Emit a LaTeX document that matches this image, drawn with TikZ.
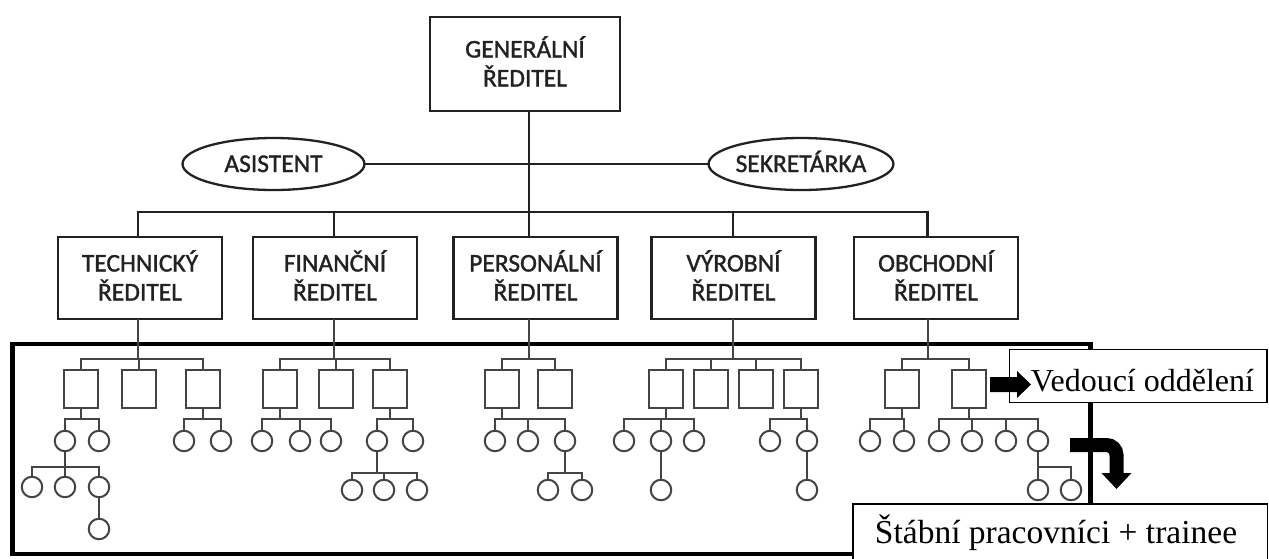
\documentclass[tikz,border=0pt]{standalone}
\usepackage{fontspec}
\newfontfamily\chartfont[FakeBold=1.3]{Carlito}
\newfontfamily\notefont{Liberation Serif}
\usetikzlibrary{shapes.geometric}

\definecolor{ink}{RGB}{34,34,34}
\definecolor{treeink}{RGB}{68,68,68}

% draw a fork: a stem from #1 down to the level of coordinate #2, then to each child in #3
\newcommand\fork[3]{%
  \path #1 coordinate (fk);
  \foreach \kid in {#3}{\draw[tree] (fk) -- (fk |- #2) -| (\kid.north);}%
}

\begin{document}
\begin{tikzpicture}[x=1pt,y=-1pt,
  every node/.style={inner sep=0pt, outer sep=0pt},
  chart/.style={draw=ink, line width=2.3pt},
  tree/.style={draw=treeink, line width=2pt},
  chartlabel/.style={font=\chartfont\fontsize{25.5}{29}\selectfont, text=ink, align=center},
  mgr/.style={chart, chartlabel, rectangle, minimum width=164pt, minimum height=82pt,
              text height=45pt, text depth=0pt},
  aide/.style={chart, chartlabel, ellipse, minimum width=182pt, minimum height=52pt,
               text height=16pt, text depth=0pt},
  sbox/.style={tree, rectangle, minimum width=34pt, minimum height=38pt},
  circ/.style={tree, circle, minimum size=20.5pt},
  notebox/.style={draw=black, fill=white, line width=1.6pt, rectangle},
  notetext/.style={font=\notefont, text=black, anchor=base},
  bigarrow/.style={fill=black}
]
\useasboundingbox (0,0) rectangle (1269,558);
\fill[white] (0,0) rectangle (1269,558);
\clip (0,0) rectangle (1269,558);

% outer frame around the departmental level
\draw[line width=4.6pt, black] (12.5,344) rectangle (1090.5,554);

% bus levels and stems
\coordinate (bus1) at (0,212);
\coordinate (bus2) at (0,358.5);
\coordinate (bus3) at (0,419);
\coordinate (bus4a) at (0,467);
\coordinate (bus4b) at (0,473);
\coordinate (tstem) at (138,0);
\coordinate (fstem) at (334,0);
\coordinate (pstem) at (529,0);
\coordinate (vstem) at (733,0);
\coordinate (ostem) at (927.5,0);

% top management
\node[chart, chartlabel, rectangle, minimum width=190pt, minimum height=94pt,
      text height=45pt, text depth=0pt] (gen) at (525,64) {GENERÁLNÍ\\ŘEDITEL};
\node[aide] (asst) at (273.5,164) {ASISTENT};
\node[aide] (sekr) at (801,164) {SEKRETÁRKA};

\node[mgr] (tech) at (140,278) {TECHNICKÝ\\ŘEDITEL};
\node[mgr] (fin)  at (335,278) {FINANČNÍ\\ŘEDITEL};
\node[mgr] (pers) at (535.5,278) {PERSONÁLNÍ\\ŘEDITEL};
\node[mgr] (vyr)  at (733.5,278) {VÝROBNÍ\\ŘEDITEL};
\node[mgr] (obch) at (936,278) {OBCHODNÍ\\ŘEDITEL};

\draw[chart] (gen.south -| pstem) -- (pers.north -| pstem);
\draw[chart] (asst.east) -- (sekr.west);
\draw[chart] (tech.north -| tstem) |- (ostem |- bus1) -- (obch.north -| ostem);
\draw[chart] (fin.north -| fstem) -- (fstem |- bus1);
\draw[chart] (vyr.north -| vstem) -- (vstem |- bus1);

% department heads
\foreach \n/\x in {ta/81,tb/139,tc/202.5,fa/280,fb/336,fc/389.5,pa/502,pb/555,
                   va/665.5,vb/710.5,vc/756,vd/801,oa/902,ob/969}
  \node[sbox] (\n) at (\x,389) {};

% staff, first row
\foreach \n/\x in {ta1/65,ta2/99,tc1/184,tc2/221,fa1/262,fa2/300,fa3/331,fc1/377,fc2/413,
                   pa1/495,pa2/528,pa3/565,va1/624,va2/661,va3/694,vd1/770,vd2/807,
                   oa1/870,oa2/904,ob1/939,ob2/972,ob3/1006,ob4/1038}
  \node[circ] (\n) at (\x,441) {};

% staff, second and third rows
\foreach \n/\x in {ta11/32,ta12/65,ta13/99}
  \node[circ] (\n) at (\x,487) {};
\node[circ] (ta131) at (99,529) {};
\foreach \n/\x in {fc11/352,fc12/384,fc13/417,pa31/548,pa32/582,va21/661,vd21/807,ob41/1038,ob42/1071}
  \node[circ] (\n) at (\x,490) {};

% links from directors to department heads
\fork{(tech.south -| tstem)}{bus2}{ta,tb,tc}
\fork{(fin.south -| fstem)}{bus2}{fa,fb,fc}
\fork{(pers.south -| pstem)}{bus2}{pa,pb}
\fork{(vyr.south -| vstem)}{bus2}{va,vb,vc,vd}
\fork{(obch.south -| ostem)}{bus2}{oa,ob}

% links from heads to staff
\fork{(ta.south)}{bus3}{ta1,ta2}
\fork{(tc.south)}{bus3}{tc1,tc2}
\fork{(fa.south)}{bus3}{fa1,fa2,fa3}
\fork{(fc.south)}{bus3}{fc1,fc2}
\fork{(pa.south)}{bus3}{pa1,pa2,pa3}
\fork{(va.south)}{bus3}{va1,va2,va3}
\fork{(vd.south)}{bus3}{vd1,vd2}
\fork{(oa.south)}{bus3}{oa1,oa2}
\fork{(ob.south)}{bus3}{ob1,ob2,ob3,ob4}

\fork{(ta1.south)}{bus4a}{ta11,ta12,ta13}
\draw[tree] (ta13.south) -- (ta131.north);
\fork{(fc1.south)}{bus4b}{fc11,fc12,fc13}
\fork{(pa3.south)}{bus4b}{pa31,pa32}
\draw[tree] (va2.south) -- (va21.north);
\draw[tree] (vd2.south) -- (vd21.north);
\fork{(ob4.south)}{bus4a}{ob41,ob42}

% annotation boxes
\node[notebox, minimum width=257.5pt, minimum height=53pt] (vbox) at (1138.25,376) {};
\node[notetext, font=\notefont\fontsize{32}{36}\selectfont] (vtext) at (1142.5,391) {Vedoucí oddělení};
\node[notebox, minimum width=414.5pt, minimum height=58pt] (sbox) at (1060.25,533) {};
\node[notetext, font=\notefont\fontsize{33.5}{38}\selectfont] (stext) at (1056,543) {Štábní pracovníci + trainee};

% pointer to the heads
\coordinate (vtip) at (1031,384.5);
\fill[bigarrow] (vtip) -- ++(-14,13.5) -- ++(0,-6) -- ++(-27,0) -- ++(0,-15) -- ++(27,0) -- ++(0,-6) -- cycle;

% bent pointer to the staff
\coordinate (ctail) at (1070,445);
\coordinate (ctip) at (1116.5,489);
\draw[black, line width=14pt, rounded corners=10pt] (ctail) -- (ctip |- ctail) -- ([yshift=15pt]ctip);
\fill[bigarrow] (ctip) -- ++(-15,-16) -- ++(30,0) -- cycle;
\end{tikzpicture}
\end{document}
